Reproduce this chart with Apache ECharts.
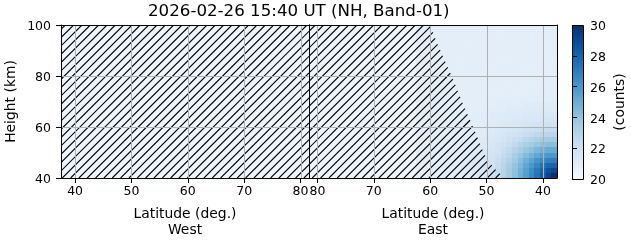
<!DOCTYPE html>
<html><head><meta charset="utf-8">
<script src="https://cdn.jsdelivr.net/npm/echarts@6/dist/echarts.min.js"></script>
<style>html,body{margin:0;padding:0;background:#fff}#c{width:631px;height:243px}</style>
</head><body><div id="c"></div>
<script>
const titleText = '2026-02-26 15:40 UT (NH, Band-01)';
const westLatTicks = [40, 50, 60, 70, 80];
const eastLatTicks = [80, 70, 60, 50, 40];
const heightTicks = [40, 60, 80, 100];
const countTicks = [20, 22, 24, 26, 28, 30];
const latRange = [37.5, 81.5];
const heightRange = [40, 100];
const cellLat = [38,39,40,41,42,43,44,45,46,47,48,49,50,51,52,53,54,55,56,57,58,59,60,61,62];
const cellHeight = [41,43,45,47,49,51,53,55,57,59,61,63,65,67,69,71,73,75,77,79,81,83,85,87,89,91,93,95,97,99];
// East counts: one row per cellHeight, one column per cellLat
const eastCounts = [
 [30.0,29.2,28.3,27.4,26.5,25.7,24.9,24.2,23.6,23.0,22.5,22.1,21.8,21.6,21.4,21.3,21.2,21.1,21.1,21.1,21.0,21.0,21.0,21.0,21.0],
 [29.1,28.7,28.0,27.2,26.4,25.6,24.8,24.1,23.6,23.0,22.5,22.1,21.8,21.6,21.4,21.3,21.2,21.1,21.1,21.1,21.0,21.0,21.0,21.0,21.0],
 [28.0,27.9,27.4,26.7,26.0,25.3,24.6,24.0,23.4,22.9,22.4,22.0,21.8,21.6,21.4,21.3,21.2,21.1,21.1,21.1,21.0,21.0,21.0,21.0,21.0],
 [27.0,26.9,26.5,26.1,25.5,24.9,24.3,23.7,23.2,22.7,22.3,21.9,21.7,21.5,21.4,21.3,21.2,21.1,21.1,21.1,21.0,21.0,21.0,21.0,21.0],
 [26.0,26.0,25.7,25.3,24.8,24.4,23.9,23.4,22.9,22.5,22.1,21.8,21.6,21.4,21.3,21.2,21.2,21.1,21.1,21.1,21.0,21.0,21.0,21.0,21.0],
 [25.1,25.1,24.9,24.6,24.2,23.9,23.4,23.0,22.6,22.2,21.9,21.7,21.5,21.4,21.3,21.2,21.1,21.1,21.1,21.1,21.0,21.0,21.0,21.0,21.0],
 [24.3,24.3,24.1,23.9,23.6,23.3,23.0,22.6,22.3,22.0,21.8,21.6,21.4,21.3,21.2,21.2,21.1,21.1,21.1,21.0,21.0,21.0,21.0,21.0,21.0],
 [23.6,23.6,23.5,23.3,23.0,22.8,22.5,22.3,22.0,21.8,21.6,21.5,21.4,21.3,21.2,21.1,21.1,21.1,21.1,21.0,21.0,21.0,21.0,21.0,21.0],
 [22.9,22.9,22.8,22.7,22.5,22.3,22.1,21.9,21.8,21.6,21.5,21.4,21.3,21.2,21.2,21.1,21.1,21.1,21.0,21.0,21.0,21.0,21.0,21.0,21.0],
 [22.4,22.4,22.3,22.2,22.1,22.0,21.8,21.7,21.6,21.5,21.4,21.3,21.2,21.2,21.1,21.1,21.1,21.0,21.0,21.0,21.0,21.0,21.0,21.0,21.0],
 [22.0,22.0,21.9,21.9,21.8,21.7,21.6,21.5,21.4,21.4,21.3,21.2,21.2,21.1,21.1,21.1,21.0,21.0,21.0,21.0,21.0,21.0,21.0,21.0,21.0],
 [21.7,21.7,21.7,21.6,21.6,21.5,21.4,21.4,21.3,21.3,21.2,21.2,21.1,21.1,21.1,21.0,21.0,21.0,21.0,21.0,21.0,21.0,21.0,21.0,21.0],
 [21.5,21.5,21.5,21.4,21.4,21.4,21.3,21.3,21.3,21.2,21.2,21.2,21.1,21.1,21.1,21.0,21.0,21.0,21.0,21.0,21.0,21.0,21.0,21.0,21.0],
 [21.3,21.3,21.3,21.3,21.3,21.2,21.2,21.2,21.2,21.1,21.1,21.1,21.1,21.0,21.0,21.0,21.0,21.0,21.0,21.0,21.0,21.0,21.0,21.0,21.0],
 [21.2,21.2,21.2,21.2,21.2,21.2,21.1,21.1,21.1,21.1,21.1,21.0,21.0,21.0,21.0,21.0,21.0,21.0,21.0,21.0,21.0,21.0,21.0,21.0,21.0],
 [21.1,21.1,21.1,21.1,21.1,21.1,21.1,21.0,21.0,21.0,21.0,21.0,21.0,21.0,21.0,21.0,21.0,21.0,21.0,21.0,21.0,21.0,21.0,21.0,21.0],
 [21.1,21.0,21.1,21.0,21.0,21.0,21.0,21.0,21.0,21.0,20.9,21.0,21.0,21.0,21.0,21.0,21.0,21.0,21.0,21.0,21.0,21.0,21.0,21.0,21.0],
 [21.0,21.0,21.0,21.0,21.0,21.0,20.9,21.0,21.0,21.0,21.0,21.0,21.0,21.1,21.0,21.0,21.0,21.0,21.0,21.0,21.0,21.0,21.0,21.0,21.0],
 [21.0,21.0,21.0,20.9,21.0,21.0,21.0,21.0,21.0,21.0,21.0,21.0,21.0,21.0,21.0,21.0,21.0,21.0,21.0,20.9,21.0,21.0,21.0,21.0,21.0],
 [21.0,21.0,21.0,21.0,21.0,21.0,21.0,21.0,20.9,21.0,21.0,21.0,21.0,21.0,21.0,21.0,21.0,21.0,21.0,21.0,21.0,21.0,21.0,21.0,21.0],
 [21.0,20.9,21.0,21.0,21.0,21.0,21.0,21.0,21.0,21.0,21.0,21.0,21.0,21.0,21.0,21.0,21.0,21.0,21.0,21.0,21.0,21.0,21.0,21.0,21.0],
 [21.0,21.0,21.0,21.0,21.0,20.9,21.0,21.0,21.0,21.0,21.0,21.0,20.9,21.0,21.0,21.0,21.0,21.0,21.0,21.0,21.0,21.0,21.0,21.0,21.0],
 [21.0,21.0,21.0,21.0,21.0,21.0,21.0,21.0,21.0,21.0,21.0,21.0,21.0,21.0,21.0,21.0,21.0,20.9,21.0,21.0,21.0,21.0,21.0,21.0,21.0],
 [20.9,21.0,21.0,21.0,21.0,21.0,21.0,21.0,21.0,20.9,21.0,21.0,21.0,21.0,21.0,21.0,21.0,21.0,21.0,21.0,21.0,21.0,21.0,21.0,21.0],
 [21.0,21.0,21.0,21.0,21.0,21.0,21.0,21.0,21.0,21.0,21.0,21.0,21.0,21.0,21.0,21.0,21.0,21.0,21.0,21.0,21.0,21.0,21.0,21.0,21.0],
 [21.0,21.0,20.9,21.0,21.0,21.0,21.0,21.0,21.0,21.0,21.0,21.0,21.0,21.0,21.0,21.0,21.0,21.0,21.0,21.0,21.0,21.0,21.0,21.0,21.0],
 [21.0,21.0,21.0,21.0,21.0,21.0,21.0,21.0,21.0,21.0,21.0,21.0,21.0,21.0,21.0,20.9,21.0,21.0,21.0,21.0,21.0,21.0,21.0,21.0,21.0],
 [21.0,21.0,21.0,21.0,20.9,21.0,21.0,21.0,21.0,21.0,21.0,21.0,21.0,21.0,21.0,21.0,21.0,21.0,21.0,21.0,21.0,21.0,21.0,21.0,21.0],
 [21.0,21.0,21.0,21.0,21.0,21.0,21.0,21.0,21.0,21.0,20.9,21.0,21.0,21.0,21.0,21.0,21.0,21.0,21.0,21.0,21.0,21.0,21.0,21.0,21.0],
 [21.0,21.0,21.0,21.0,21.0,21.0,21.0,21.0,21.0,21.0,21.0,21.0,21.0,21.0,21.0,21.0,21.0,21.0,21.0,21.0,21.0,21.0,21.0,21.0,21.0]
];
// edge of the no-data (hatched) region on the East side, top to bottom
const eastHatchEdgeLat = [60, 59, 58, 57, 56, 55, 54, 53, 52, 51, 50, 48.5, 47.3, 47];
const eastHatchEdgeHeight = [100, 94, 89, 84, 79, 73.5, 68, 63, 58, 52.5, 47.5, 43.5, 41, 40];
const blues = ['#f7fbff','#deebf7','#c6dbef','#9ecae1','#6baed6','#4292c6','#2171b5','#08519c','#08306b'];

const FONT = 'DejaVu Sans';
const chart = echarts.init(document.getElementById('c'), null, {renderer: 'canvas'});

const heatData = [];
eastCounts.forEach((row, i) => row.forEach((v, j) => heatData.push([cellLat[j], cellHeight[i], v])));
const halfLat = (cellLat[1] - cellLat[0]) / 2;
const halfH = (cellHeight[1] - cellHeight[0]) / 2;

const westPoly = [[latRange[0], heightRange[0]], [latRange[1], heightRange[0]], [latRange[1], heightRange[1]], [latRange[0], heightRange[1]]];
const eastPoly = [[latRange[1], heightRange[1]]];
eastHatchEdgeLat.forEach((l, i) => eastPoly.push([l, eastHatchEdgeHeight[i]]));
eastPoly.push([latRange[1], heightRange[0]]);

function hatchRender(poly) {
  return function (params, api) {
    if (params.dataIndex !== 0) return;
    const pts = poly.map(p => api.coord(p));
    let cmin = Infinity, cmax = -Infinity;
    pts.forEach(p => { const s = p[0] + p[1]; cmin = Math.min(cmin, s); cmax = Math.max(cmax, s); });
    const sp = 8.333, phase = 240.3;
    const children = [];
    for (let c = phase + Math.ceil((cmin - phase) / sp) * sp; c <= cmax; c += sp) {
      const xs = [];
      for (let i = 0; i < pts.length; i++) {
        const a = pts[i], b = pts[(i + 1) % pts.length];
        const sa = a[0] + a[1], sb = b[0] + b[1];
        if (sa === sb) continue;
        const t = (c - sa) / (sb - sa);
        if (t >= 0 && t < 1) xs.push(a[0] + t * (b[0] - a[0]));
      }
      xs.sort((m, n) => m - n);
      for (let k = 0; k + 1 < xs.length; k += 2) {
        children.push({type: 'line', shape: {x1: xs[k], y1: c - xs[k], x2: xs[k + 1], y2: c - xs[k + 1]},
          style: {stroke: '#000', lineWidth: 1.1}});
      }
    }
    return {type: 'group', children};
  };
}

function gridRender(xTicks) {
  return function (params, api) {
    if (params.dataIndex !== 0) return;
    const children = [];
    const st = {stroke: '#b0b0b0', lineWidth: 1};
    xTicks.forEach(v => {
      const a = api.coord([v, heightRange[0]]), b = api.coord([v, heightRange[1]]);
      const x = Math.round(a[0]) + 0.5;
      children.push({type: 'line', z2: 100, shape: {x1: x, y1: a[1], x2: x, y2: b[1]}, style: st});
    });
    heightTicks.forEach(v => {
      const a = api.coord([latRange[0], v]), b = api.coord([latRange[1], v]);
      const y = Math.round(a[1]) + 0.5;
      children.push({type: 'line', z2: 100, shape: {x1: a[0], y1: y, x2: b[0], y2: y}, style: st});
    });
    return {type: 'group', children};
  };
}

const blk = {color: '#000', width: 1};
function frameAxis(grid, pos, min, max, inverse) {
  return {gridIndex: grid, type: 'value', position: pos, min, max, inverse: !!inverse, z: 20,
    axisLine: {show: true, onZero: false, lineStyle: blk}, axisTick: {show: false},
    axisLabel: {show: false}, splitLine: {show: false}};
}
function latAxis(grid, ticks, inverse, name) {
  return {gridIndex: grid, type: 'value', position: 'bottom', min: latRange[0], max: latRange[1], inverse, z: 20,
    axisLine: {show: true, onZero: false, lineStyle: blk},
    axisTick: {show: true, customValues: ticks, length: 5, lineStyle: blk},
    axisLabel: {show: true, customValues: ticks, fontSize: 12.5, color: '#000', fontFamily: FONT, margin: 7, lineHeight: 14},
    splitLine: {show: false},
    name, nameLocation: 'middle', nameGap: 28,
    nameTextStyle: {fontSize: 13.9, lineHeight: 16, color: '#000', fontFamily: FONT}};
}
const yLabelRich = {v: {fontSize: 12.5, color: '#000', fontFamily: FONT, padding: [4, 0, 0, 0]}};

const option = {
  animation: false,
  backgroundColor: '#fff',
  title: {text: titleText, left: 148, top: 1.5, padding: 0,
    textStyle: {fontFamily: FONT, fontSize: 16.67, fontWeight: 'normal', color: '#000', lineHeight: 20}},
  grid: [
    {left: 61, top: 25, width: 248, height: 154, show: true, backgroundColor: '#edf4fb', borderWidth: 0},
    {left: 309, top: 25, width: 248, height: 154, show: true, backgroundColor: '#edf4fb', borderWidth: 0},
    {left: 572, top: 25, width: 11, height: 154}
  ],
  xAxis: [
    latAxis(0, westLatTicks, false, 'Latitude (deg.)\nWest'),
    frameAxis(0, 'top', latRange[0], latRange[1]),
    latAxis(1, eastLatTicks, true, 'Latitude (deg.)\nEast'),
    frameAxis(1, 'top', latRange[0], latRange[1], true),
    {gridIndex: 2, type: 'value', min: 0, max: 1, show: false}
  ],
  yAxis: [
    {gridIndex: 0, type: 'value', position: 'left', min: heightRange[0], max: heightRange[1], interval: 20, z: 20,
      axisLine: {show: true, onZero: false, lineStyle: blk},
      axisTick: {show: true, length: 5, lineStyle: blk},
      axisLabel: {formatter: '{v|{value}}', rich: yLabelRich, margin: 10},
      splitLine: {show: false},
      name: 'Height (km)', nameLocation: 'middle', nameGap: 43,
      nameTextStyle: {fontSize: 13.9, color: '#000', fontFamily: FONT}},
    frameAxis(0, 'right', heightRange[0], heightRange[1]),
    frameAxis(1, 'left', heightRange[0], heightRange[1]),
    frameAxis(1, 'right', heightRange[0], heightRange[1]),
    {gridIndex: 2, type: 'value', position: 'right', min: countTicks[0], max: countTicks[countTicks.length - 1], interval: 2, z: 20,
      axisLine: {show: false},
      axisTick: {show: true, length: 5, lineStyle: blk},
      axisLabel: {formatter: '{v|{value}}', rich: yLabelRich, margin: 7},
      splitLine: {show: false},
      name: '(counts)', nameLocation: 'middle', nameGap: 30, nameRotate: 90,
      nameTextStyle: {fontSize: 13.9, color: '#000', fontFamily: FONT}}
  ],
  visualMap: {type: 'continuous', show: false, min: countTicks[0], max: countTicks[countTicks.length - 1],
    dimension: 2, seriesIndex: 0, inRange: {color: blues}},
  series: [
    {type: 'custom', xAxisIndex: 2, yAxisIndex: 2, clip: true, z: 2, data: heatData,
      encode: {x: 0, y: 1},
      renderItem: function (params, api) {
        const lat = api.value(0), h = api.value(1);
        const p0 = api.coord([lat - halfLat, h + halfH]);
        const p1 = api.coord([lat + halfLat, h - halfH]);
        const x0 = Math.round(Math.min(p0[0], p1[0])), x1 = Math.round(Math.max(p0[0], p1[0]));
        const y0 = Math.round(Math.min(p0[1], p1[1])), y1 = Math.round(Math.max(p0[1], p1[1]));
        return {type: 'rect', shape: {x: x0, y: y0, width: x1 - x0, height: y1 - y0},
          style: {fill: api.visual('color')}};
      }},
    {type: 'custom', xAxisIndex: 0, yAxisIndex: 0, clip: true, z: 5, data: westPoly, renderItem: hatchRender(westPoly)},
    {type: 'custom', xAxisIndex: 2, yAxisIndex: 2, clip: true, z: 5, data: eastPoly, renderItem: hatchRender(eastPoly)},
    {type: 'custom', xAxisIndex: 0, yAxisIndex: 0, clip: true, z: 8, data: westLatTicks, renderItem: gridRender(westLatTicks)},
    {type: 'custom', xAxisIndex: 2, yAxisIndex: 2, clip: true, z: 8, data: eastLatTicks, renderItem: gridRender(eastLatTicks)},
    {type: 'custom', xAxisIndex: 4, yAxisIndex: 4, z: 3, data: [[0, countTicks[0], 1, countTicks[countTicks.length - 1]]],
      renderItem: function (params, api) {
        const a = api.coord([api.value(0), api.value(3)]);
        const b = api.coord([api.value(2), api.value(1)]);
        const stops = blues.map((c, i) => ({offset: i / (blues.length - 1), color: c}));
        return {type: 'rect', shape: {x: Math.round(a[0]) + 0.5, y: Math.round(a[1]) + 0.5, width: Math.round(b[0] - a[0]), height: Math.round(b[1] - a[1])},
          style: {fill: new echarts.graphic.LinearGradient(0, 1, 0, 0, stops), stroke: '#000', lineWidth: 1}};
      }}
  ]
};
chart.setOption(option);
</script></body></html>
